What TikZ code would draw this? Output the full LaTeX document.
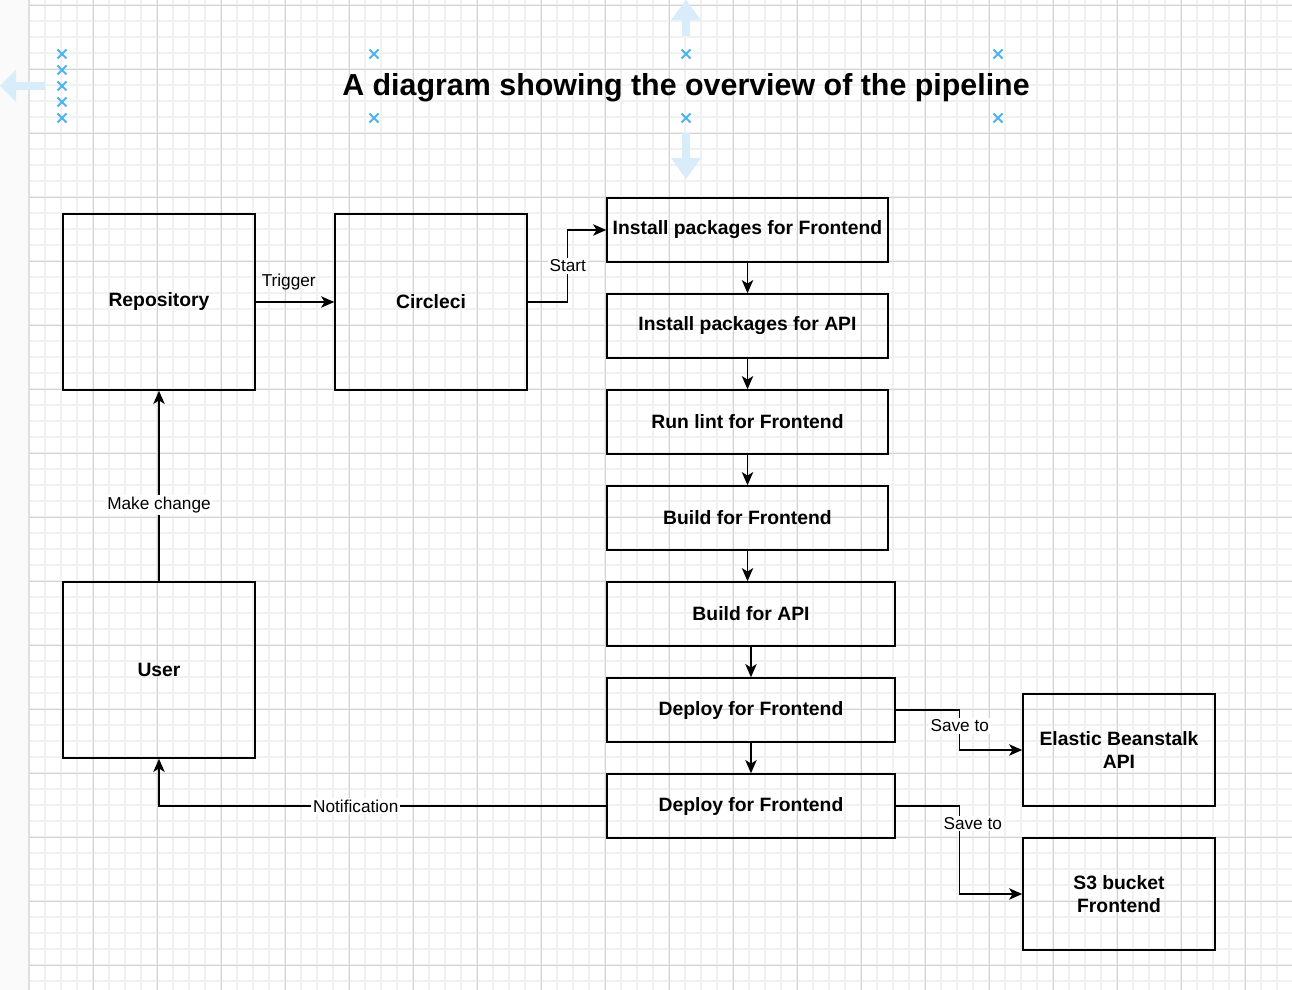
\documentclass[tikz,border=0pt]{standalone}
\usepackage{fontspec}
\setmainfont{Liberation Sans}
\usepackage{tikz}
\usetikzlibrary{arrows.meta}
\usetikzlibrary{calc}
\tikzset{>={Stealth[length=7.5pt,width=6.5pt,inset=2pt]}}
\definecolor{gridminor}{HTML}{F1F1F1}
\definecolor{gridmajor}{HTML}{D2D2D2}
\definecolor{selblue}{HTML}{4DB3EE}
\definecolor{paleblue}{HTML}{D9ECFA}
\definecolor{sidepanel}{HTML}{FAFAFA}
\tikzset{
	box/.style={draw, line width=0.9pt, inner sep=0pt, align=center, font=\fontsize{11}{13.5}\selectfont\bfseries},
	bigbox/.style={box, minimum width=3.84cm, minimum height=3.52cm},
	stagebox/.style={box, minimum width=5.62cm, minimum height=1.28cm},
	widestage/.style={box, minimum width=5.76cm, minimum height=1.28cm},
	targetbox/.style={box, minimum width=3.84cm, minimum height=2.24cm},
	flow/.style={->, line width=0.8pt},
	elabel/.style={fill=white, inner sep=1pt, font=\fontsize{9.8}{12}\selectfont},
	selmark/.style={selblue, line width=1.1pt}
}
\begin{document}
\begin{tikzpicture}[x=0.02cm, y=-0.02cm]
			\useasboundingbox (0,0) rectangle (1292,990);
			\fill[white] (0,0) rectangle (1292,990);
			\foreach \gx in {29,45,...,1292} \draw[gridminor, line width=0.6pt] (\gx,0) -- (\gx,990);
			\foreach \gy in {5,21,...,990} \draw[gridminor, line width=0.6pt] (29,\gy) -- (1292,\gy);
			\foreach \gx in {93,157,...,1292} \draw[gridmajor, line width=0.5pt] (\gx,0) -- (\gx,990);
			\foreach \gy in {5,69,...,990} \draw[gridmajor, line width=0.5pt] (29,\gy) -- (1292,\gy);
			\fill[sidepanel] (0,0) rectangle (29,990);
			\draw[gridmajor!70, line width=0.8pt] (29,0) -- (29,990);

			\fill[paleblue] (45,82) -- (16,82) -- (16,70) -- (0,86) -- (16,102) -- (16,90) -- (45,90) -- cycle;
			\fill[paleblue] (682,36) -- (682,20) -- (671,20) -- (686,0) -- (701,20) -- (690,20) -- (690,36) -- cycle;
			\fill[paleblue] (682,133) -- (682,158) -- (671,158) -- (686,179) -- (701,158) -- (690,158) -- (690,133) -- cycle;
			\foreach \mx/\my in {62/54,62/70,62/86,62/102,62/118,374/54,374/118,686/54,686/118,998/54,998/118}
				\draw[selmark] (\mx-4.5,\my-4.5) -- (\mx+4.5,\my+4.5) (\mx-4.5,\my+4.5) -- (\mx+4.5,\my-4.5);

			\node[font=\fontsize{17.3}{20}\selectfont\bfseries] (title) at (686,88) {A diagram showing the overview of the pipeline};

			\node[bigbox] (repo) at (159,302) {Repository};
			\node[bigbox] (circ) at (431,302) {Circleci};
			\node[bigbox] (user) at (159,670) {User};
			\node[stagebox] (ifront) at (747.5,230) {Install packages for Frontend};
			\node[stagebox] (iapi) at (747.5,326) {Install packages for API};
			\node[stagebox] (lint) at (747.5,422) {Run lint for Frontend};
			\node[stagebox] (bfront) at (747.5,518) {Build for Frontend};
			\node[widestage] (bapi) at (751,614) {Build for API};
			\node[widestage] (dep1) at (751,710) {Deploy for Frontend};
			\node[widestage] (dep2) at (751,806) {Deploy for Frontend};
			\node[targetbox] (eb) at (1119,750) {Elastic Beanstalk\\API};
			\node[targetbox] (s3) at (1119,894) {S3 bucket\\Frontend};

			\draw[flow] (repo.east) -- node[above, pos=0.42, yshift=0.1cm, font=\fontsize{9.8}{12}\selectfont] {Trigger} (circ.west);
			\draw[flow] (circ.east) -- ++(40,0) |- node[elabel, pos=0.25] {Start} (ifront.west);
			\draw[flow] (ifront.south) -- (ifront.south |- iapi.north);
			\draw[flow] (iapi.south) -- (iapi.south |- lint.north);
			\draw[flow] (lint.south) -- (lint.south |- bfront.north);
			\draw[flow] (bfront.south) -- (bfront.south |- bapi.north);
			\draw[flow] (bapi.south) -- (dep1.north);
			\draw[flow] (dep1.south) -- (dep2.north);
			\draw[flow] (dep1.east) -- ++(64,0) |- node[elabel, pos=0.2] {Save to} (eb.west);
			\draw[flow] (dep2.east) -- ++(64,0) |- node[elabel, pos=0.1, xshift=0.26cm] {Save to} (s3.west);
			\draw[flow] (dep2.west) -| node[elabel, pos=0.28] {Notification} (user.south);
			\draw[flow] (user.north) -- node[elabel, pos=0.4] {Make change} (repo.south);
\end{tikzpicture}
\end{document}
